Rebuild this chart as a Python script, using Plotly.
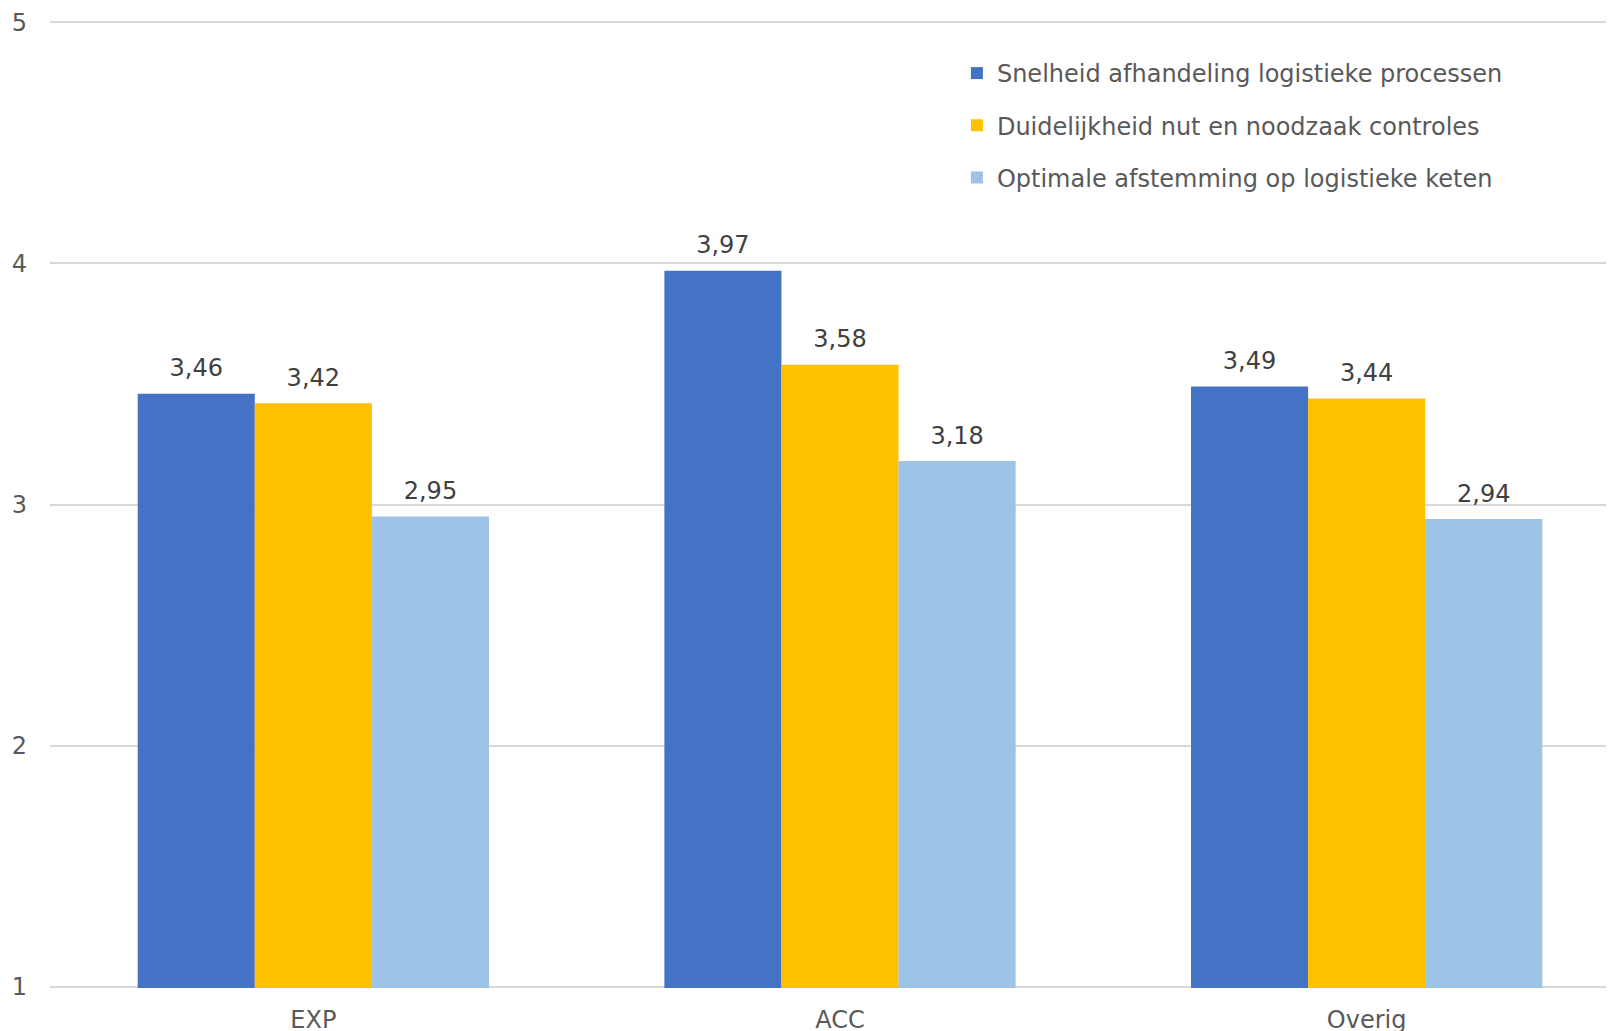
import plotly.graph_objects as go

categories = ["EXP", "ACC", "Overig"]
series_names = [
    "Snelheid afhandeling logistieke processen",
    "Duidelijkheid nut en noodzaak controles",
    "Optimale afstemming op logistieke keten",
]
snelheid = [3.46, 3.97, 3.49]
duidelijkheid = [3.42, 3.58, 3.44]
afstemming = [2.95, 3.18, 2.94]
colors = ["#4472C4", "#FFC000", "#9DC3E6"]
y_ticks = [1, 2, 3, 4, 5]

FONT = "Verdana, DejaVu Sans, sans-serif"
FS = 24
LABEL_PAD = 0.035  # gap between bar top and its value label (axis units)

fig = go.Figure()
all_series = [snelheid, duidelijkheid, afstemming]
for i, (name, vals) in enumerate(zip(series_names, all_series)):
    fig.add_trace(go.Bar(
        x=categories, y=vals, name=name,
        marker=dict(color=colors[i], line=dict(width=0)),
        offsetgroup=f"s{i}", legendgroup=f"g{i}",
    ))
for i, vals in enumerate(all_series):
    fig.add_trace(go.Bar(
        x=categories, y=[LABEL_PAD] * len(vals), base=vals,
        marker=dict(color="rgba(0,0,0,0)", line=dict(width=0)),
        text=[f"{v:.2f}".replace(".", ",") for v in vals],
        textposition="outside",
        textfont=dict(family=FONT, size=FS, color="#404040"),
        cliponaxis=False, offsetgroup=f"s{i}", showlegend=False,
        hoverinfo="skip",
    ))

fig.update_layout(
    width=1622, height=1031,
    margin=dict(l=42, r=0, t=12.5, b=50.5, autoexpand=False),
    paper_bgcolor="white", plot_bgcolor="white",
    separators=",.",
    barmode="group", bargap=0.333, bargroupgap=0,
    font=dict(family=FONT, size=FS, color="#595959"),
    showlegend=True,
    legend=dict(
        x=0.574, y=0.969, xanchor="left", yanchor="top",
        font=dict(family=FONT, size=FS, color="#595959"),
        traceorder="grouped", tracegroupgap=18,
        bgcolor="rgba(0,0,0,0)",
    ),
    xaxis=dict(showgrid=False, showline=False, ticks="", automargin=False,
               ticklabelstandoff=15,
               tickfont=dict(family=FONT, size=FS, color="#595959")),
    yaxis=dict(range=[0.994, 5.006], tickvals=y_ticks, showgrid=True,
               gridcolor="#D9D9D9", gridwidth=1.5, zeroline=False,
               showline=False, ticks="", ticklabelstandoff=22,
               automargin=False,
               tickfont=dict(family=FONT, size=FS, color="#595959")),
)

fig.write_html("out.html")
